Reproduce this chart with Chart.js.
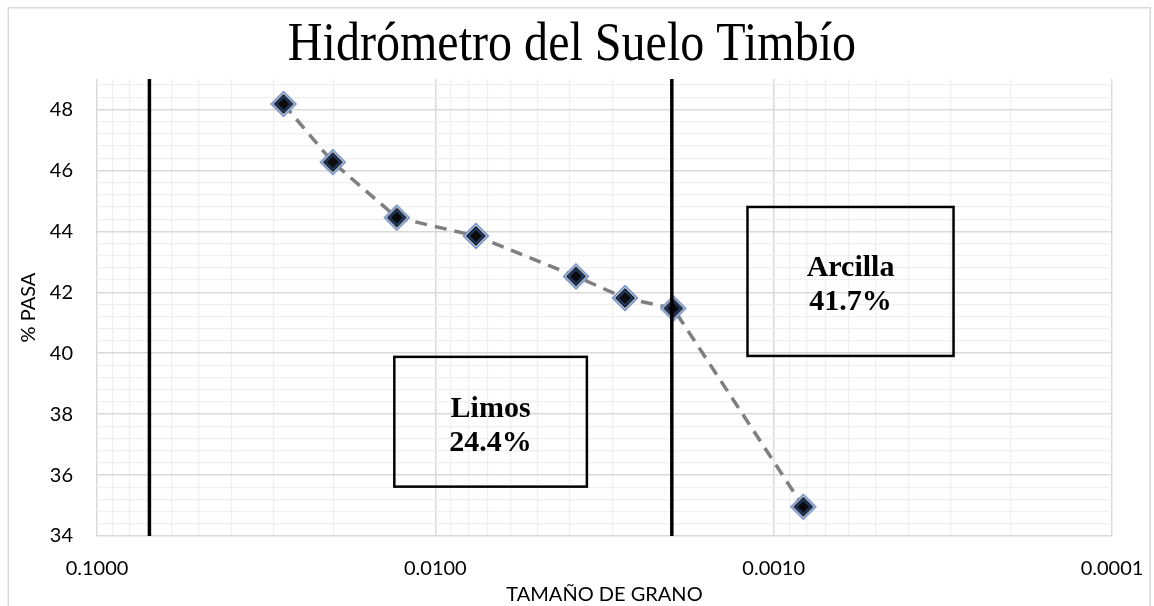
<!DOCTYPE html>
<html><head><meta charset="utf-8">
<script src="https://cdn.jsdelivr.net/npm/chart.js@4.4.1/dist/chart.umd.min.js"></script>
<style>html,body{margin:0;padding:0;background:#fff;} canvas{display:block;}</style>
</head><body>
<canvas id="c" width="1154" height="606"></canvas>
<script>
// ---- data ----
const chartTitle = 'Hidrómetro del Suelo Timbío';
const xAxisTitle = 'TAMAÑO DE GRANO';
const yAxisTitle = '% PASA';
const grainSize = [0.0281, 0.0201, 0.0130, 0.00759, 0.00384, 0.00275, 0.00198, 0.000817];
const percentPassing = [48.18, 46.27, 44.45, 43.85, 42.52, 41.81, 41.47, 34.96];
const limitSizes = [0.07, 0.002];
const xDecadeTicks = [0.0001, 0.001, 0.01, 0.1];
const xMinorMultipliers = [2, 3, 4, 5, 6, 7, 8, 9];
const yMajorTicks = [34, 36, 38, 40, 42, 44, 46, 48];
const yMinorPerMajor = 5;
const boxTexts = [['Limos', '24.4%'], ['Arcilla', '41.7%']];

// ---- annotation placement (data space) ----
const boxPlacement = [
  {x1: 0.01322, x2: 0.003565, y1: 35.62, y2: 39.88},
  {x1: 0.001195, x2: 0.000294, y1: 39.91, y2: 44.80}
];

function makeMarker() {
  const s = 30, c = document.createElement('canvas');
  c.width = s; c.height = s;
  const g = c.getContext('2d'), m = s / 2;
  const dia = (r, col) => {
    g.beginPath(); g.moveTo(m, m - r); g.lineTo(m + r, m); g.lineTo(m, m + r); g.lineTo(m - r, m);
    g.closePath(); g.fillStyle = col; g.fill();
  };
  dia(13.5, '#7391c4'); dia(11, '#ffffff'); dia(10, '#000000'); dia(8.6, '#22406f'); dia(6, '#0b0b0b');
  return c;
}

const isMajorY = v => yMajorTicks.some(t => Math.abs(t - v) < 1e-6);
const isMajorX = v => xDecadeTicks.some(t => Math.abs(t - v) / t < 1e-6);

const frameTitlePlugin = {
  id: 'frameTitle',
  beforeDraw(chart) {
    const ctx = chart.ctx;
    ctx.save();
    ctx.fillStyle = '#fff';
    ctx.fillRect(0, 0, chart.width, chart.height);
    ctx.strokeStyle = '#d9d9d9';
    ctx.lineWidth = 1.5;
    ctx.strokeRect(8.25, 7.75, 1142, 620);
    ctx.fillStyle = '#000';
    ctx.font = '54px "Liberation Serif"';
    ctx.textAlign = 'center';
    ctx.textBaseline = 'alphabetic';
    ctx.translate(572, 60);
    ctx.scale(0.89, 1);
    ctx.fillText(chartTitle, 0, 0);
    ctx.restore();
  }
};

const boxesPlugin = {
  id: 'boxes',
  afterDatasetsDraw(chart) {
    const ctx = chart.ctx, xs = chart.scales.x, ys = chart.scales.y;
    ctx.save();
    boxPlacement.forEach((b, i) => {
      const l = xs.getPixelForValue(b.x1), r = xs.getPixelForValue(b.x2);
      const t = ys.getPixelForValue(b.y2), bt = ys.getPixelForValue(b.y1);
      ctx.strokeStyle = '#000';
      ctx.lineWidth = 2.5;
      ctx.strokeRect(l, t, r - l, bt - t);
      const cx = (l + r) / 2, cy = (t + bt) / 2;
      ctx.fillStyle = '#000';
      ctx.font = 'bold 30px "Liberation Serif"';
      ctx.textAlign = 'center';
      ctx.textBaseline = 'alphabetic';
      ctx.fillText(boxTexts[i][0], cx, cy - 5);
      ctx.fillText(boxTexts[i][1], cx, cy + 29);
    });
    ctx.restore();
  }
};

const marker = makeMarker();
const datasets = [
  {
    label: 'Hidrómetro',
    data: grainSize.map((x, i) => ({x, y: percentPassing[i]})),
    showLine: true,
    borderColor: '#7f7f7f',
    borderWidth: 3.5,
    borderDash: [12, 8],
    pointStyle: marker,
    pointRadius: 13,
    order: 2
  }
].concat(limitSizes.map(v => ({
  label: 'limit ' + v,
  data: [{x: v, y: 34}, {x: v, y: 49}],
  showLine: true,
  borderColor: '#000',
  borderWidth: 3.5,
  pointRadius: 0,
  order: 1
})));

new Chart(document.getElementById('c'), {
  type: 'scatter',
  data: {datasets},
  plugins: [frameTitlePlugin, boxesPlugin],
  options: {
    responsive: false,
    animation: false,
    devicePixelRatio: 1,
    layout: {padding: {left: 0, top: 79, right: 42, bottom: 0}},
    plugins: {legend: {display: false}, tooltip: {enabled: false}, title: {display: false}},
    scales: {
      x: {
        type: 'logarithmic',
        reverse: true,
        min: 0.0001,
        max: 0.1,
        afterBuildTicks(scale) {
          const vals = [];
          for (let d = 0; d < xDecadeTicks.length - 1; d++) {
            vals.push(xDecadeTicks[d]);
            xMinorMultipliers.forEach(m => vals.push(xDecadeTicks[d] * m));
          }
          vals.push(xDecadeTicks[xDecadeTicks.length - 1]);
          scale.ticks = vals.map(value => ({value}));
        },
        afterFit(scale) { scale.height = 70; },
        ticks: {
          autoSkip: false, maxRotation: 0, padding: 21,
          color: '#000',
          font: {family: 'Lato', size: 20},
          callback: v => isMajorX(v) ? v.toFixed(4) : ''
        },
        grid: {
          drawTicks: false,
          color: c => isMajorX(c.tick.value) ? '#d9d9d9' : '#efefef',
          lineWidth: c => isMajorX(c.tick.value) ? 1.5 : 1.2
        },
        border: {display: false},
        title: {display: true, text: xAxisTitle, color: '#000', font: {family: 'Lato', size: 20, lineHeight: 1.1}, padding: {top: 0, bottom: 0}}
      },
      y: {
        min: 34,
        max: 49,
        afterBuildTicks(scale) {
          const vals = [];
          for (let k = 0; k < yMajorTicks.length; k++) {
            const a = yMajorTicks[k];
            vals.push(a);
            const next = k + 1 < yMajorTicks.length ? yMajorTicks[k + 1] : a + (a - yMajorTicks[k - 1]);
            const step = (next - a) / yMinorPerMajor;
            for (let j = 1; j < yMinorPerMajor; j++) {
              const v = +(a + step * j).toFixed(6);
              if (v < 49) vals.push(v);
            }
          }
          scale.ticks = vals.map(value => ({value}));
        },
        afterFit(scale) { scale.width = 97; },
        ticks: {
          autoSkip: false, padding: 24, color: '#000',
          font: {family: 'Lato', size: 20},
          callback: v => isMajorY(v) ? String(Math.round(v)) : ''
        },
        grid: {
          drawTicks: false,
          color: c => isMajorY(c.tick.value) ? '#d9d9d9' : '#efefef',
          lineWidth: c => isMajorY(c.tick.value) ? 1.5 : 1.2
        },
        border: {display: false},
        title: {display: true, text: yAxisTitle, color: '#000', font: {family: 'Lato', size: 20, lineHeight: 1.1}, padding: {top: 18, bottom: 0}}
      }
    }
  }
});
</script>
</body></html>
